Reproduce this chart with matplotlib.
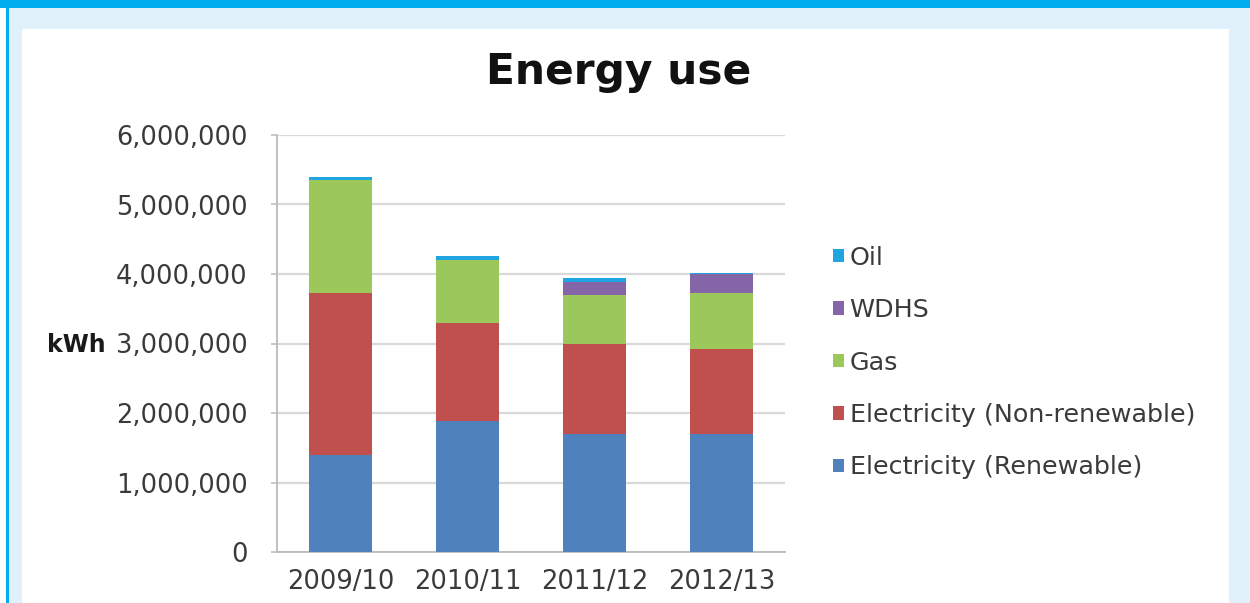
import matplotlib
matplotlib.use("Agg")
import matplotlib.pyplot as plt
from matplotlib.patches import Rectangle
from matplotlib.ticker import FuncFormatter
import numpy as np

# Financial years and energy use by source (kWh)
years = ["2009/10", "2010/11", "2011/12", "2012/13"]
elec_renewable = [1390000, 1890000, 1700000, 1700000]
elec_nonrenewable = [2340000, 1410000, 1290000, 1220000]
gas = [1620000, 900000, 710000, 810000]
wdhs = [0, 0, 190000, 270000]
oil = [50000, 60000, 50000, 15000]

series = [
    ("Electricity (Renewable)", elec_renewable, "#4F81BD"),
    ("Electricity (Non-renewable)", elec_nonrenewable, "#C0504D"),
    ("Gas", gas, "#9CC75A"),
    ("WDHS", wdhs, "#8466A8"),
    ("Oil", oil, "#1FA6E0"),
]

W, H = 1250, 603
fig = plt.figure(figsize=(W / 100, H / 100), dpi=100, facecolor="white")

def px_rect(x0, y0, x1, y1, color, z):
    # rectangle given in pixel coordinates measured from the top-left corner
    fig.add_artist(Rectangle((x0 / W, 1 - y1 / H), (x1 - x0) / W, (y1 - y0) / H,
                             transform=fig.transFigure, facecolor=color,
                             edgecolor="none", zorder=z))

# Page frame around the chart
px_rect(9, 8, W, H, "#E0F1FB", -10)
px_rect(22, 29, 1229, H, "white", -9)
px_rect(0, 0, W, 8, "#00AEEF", -8)
px_rect(6, 0, 9, H, "#00AEEF", -8)

ax = fig.add_axes([277 / W, 1 - 552 / H, 508 / W, (552 - 135) / H])
ax.set_facecolor("none")

x = np.arange(len(years))
bottom = np.zeros(len(years))
handles = []
for label, vals, color in series:
    b = ax.bar(x, vals, width=0.5, bottom=bottom, color=color, label=label,
               zorder=3, linewidth=0)
    bottom += np.array(vals)
    handles.append(b)

ax.set_xlim(-0.5, len(years) - 0.5)
ax.set_ylim(0, 6000000)
ax.set_yticks(np.arange(0, 6000001, 1000000))
ax.yaxis.set_major_formatter(FuncFormatter(lambda v, p: f"{int(v):,}"))
ax.set_xticks(x)
ax.set_xticklabels(years)

ax.grid(axis="y", color="#D9D9D9", linewidth=1.6, zorder=0)
ax.set_axisbelow(True)
for s in ("top", "right"):
    ax.spines[s].set_visible(False)
for s in ("left", "bottom"):
    ax.spines[s].set_color("#BFBFBF")
    ax.spines[s].set_linewidth(1.4)

ax.tick_params(axis="y", length=4, color="#BFBFBF", width=1.2, pad=17,
               labelsize=18.5, labelcolor="#3A3A3A")
ax.tick_params(axis="x", length=0, pad=12, labelsize=18.5, labelcolor="#3A3A3A")

fig.text(76 / W, 1 - 345 / H, "kWh", ha="center", va="center",
         fontsize=17, fontweight="bold", color="#1A1A1A")

fig.text(619 / W, 1 - 72 / H, "Energy use", ha="center", va="center",
         fontsize=30.5, fontweight="bold", color="#111111")

leg = fig.legend(handles[::-1], [s[0] for s in series][::-1],
                 loc="center left", bbox_to_anchor=(833 / W, 1 - 362.5 / H),
                 frameon=False, fontsize=18.3, handlelength=0.45,
                 handleheight=0.45, handletextpad=0.2, labelspacing=1.12,
                 borderpad=0, borderaxespad=0)
for t in leg.get_texts():
    t.set_color("#3A3A3A")

fig.savefig("out.png", dpi=100, facecolor="white")
